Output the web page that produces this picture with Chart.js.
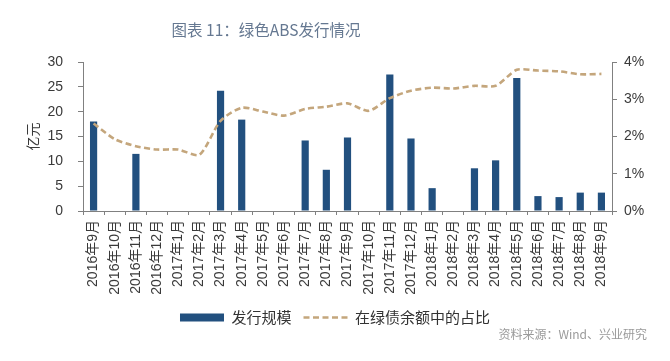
<!DOCTYPE html>
<html>
<head>
<meta charset="utf-8">
<script src="https://cdn.jsdelivr.net/npm/chart.js@4/dist/chart.umd.min.js"></script>
<style>
  html, body { margin: 0; padding: 0; background: #fff; }
  #wrap { position: relative; width: 670px; height: 361px; overflow: hidden; }
  #c { position: absolute; left: 0; top: 0; }
  #title { position: absolute; left: 0; top: 18px; width: 532px; text-align: center;
    font: 15.5px "Noto Sans CJK SC", "Liberation Sans", sans-serif; color: #657891; line-height: 22px; }
  #src { position: absolute; right: 23px; top: 325px;
    font: 12px "Noto Sans CJK SC", "Liberation Sans", sans-serif; color: #9a9a9a; line-height: 18px; }
</style>
</head>
<body>
<div id="wrap">
  <canvas id="c" width="670" height="361"></canvas>
  <div id="title">图表 11：绿色ABS发行情况</div>
  <div id="src">资料来源：Wind、兴业研究</div>
</div>
<script>
const categories = ['2016年9月','2016年10月','2016年11月','2016年12月','2017年1月','2017年2月','2017年3月','2017年4月','2017年5月','2017年6月','2017年7月','2017年8月','2017年9月','2017年10月','2017年11月','2017年12月','2018年1月','2018年2月','2018年3月','2018年4月','2018年5月','2018年6月','2018年7月','2018年8月','2018年9月'];
const issuance = [18.0, 0, 11.5, 0, 0, 0, 24.2, 18.4, 0, 0, 14.2, 8.3, 14.8, 0, 27.5, 14.6, 4.6, 0, 8.6, 10.2, 26.8, 3.0, 2.8, 3.7, 3.7];
const sharePct = [2.35, 1.93, 1.74, 1.65, 1.65, 1.51, 2.42, 2.77, 2.67, 2.56, 2.74, 2.80, 2.89, 2.69, 3.03, 3.23, 3.31, 3.29, 3.36, 3.36, 3.79, 3.77, 3.75, 3.67, 3.68];
const leftTicks = [0, 5, 10, 15, 20, 25, 30];
const rightTicks = ['0%', '1%', '2%', '3%', '4%'];
const seriesNames = ['发行规模', '在绿债余额中的占比'];

const BLUE = '#22507f';
const TAN = '#c4a67c';
const AXIS = '#808080';
const TXT = '#3a3a3a';
const FONT = '"Liberation Sans", "Noto Sans CJK SC", sans-serif';

new Chart(document.getElementById('c'), {
  type: 'bar',
  data: {
    labels: categories,
    datasets: [
      { type: 'bar', label: seriesNames[0], data: issuance, backgroundColor: BLUE, borderWidth: 0,
        yAxisID: 'y', categoryPercentage: 1.0, barPercentage: 0.34, order: 2 },
      { type: 'line', label: seriesNames[1], data: sharePct, borderColor: TAN, borderWidth: 2.6,
        borderDash: [6, 3.5], pointRadius: 0, tension: 0.25, fill: false, yAxisID: 'y1', order: 1 }
    ]
  },
  options: {
    responsive: false,
    animation: false,
    devicePixelRatio: 1,
    layout: { padding: { top: 62, left: 0, right: 0, bottom: 26 } },
    plugins: {
      tooltip: { enabled: false },
      legend: {
        position: 'bottom',
        labels: {
          usePointStyle: true,
          pointStyleWidth: 44,
          boxHeight: 8,
          boxWidth: 44,
          padding: 12,
          color: '#333',
          font: { family: '"Noto Sans CJK SC", sans-serif', size: 15 },
          generateLabels: () => [
            { text: seriesNames[0], fillStyle: BLUE, strokeStyle: BLUE, lineWidth: 0, pointStyle: 'rect', datasetIndex: 0, fontColor: '#333' },
            { text: seriesNames[1], fillStyle: TAN, strokeStyle: TAN, lineWidth: 2.6, lineDash: [6, 3.5], pointStyle: 'line', datasetIndex: 1, fontColor: '#333' }
          ]
        }
      }
    },
    scales: {
      x: {
        offset: true,
        grid: { display: true, drawOnChartArea: false, drawTicks: true, tickLength: 4, color: AXIS, offset: true },
        border: { display: true, color: AXIS, width: 1 },
        ticks: { minRotation: 90, maxRotation: 90, autoSkip: false, padding: 5, color: TXT,
          font: { family: FONT, size: 14 } },
        afterFit: (s) => { s.height = 87; }
      },
      y: {
        position: 'left',
        min: 0, max: 30,
        afterBuildTicks: (s) => { s.ticks = leftTicks.map(v => ({ value: v })); },
        grid: { display: true, drawOnChartArea: false, drawTicks: true, tickLength: 5, color: AXIS },
        border: { display: true, color: AXIS, width: 1 },
        ticks: { padding: 15, color: TXT, font: { family: FONT, size: 14 } },
        title: { display: true, text: '亿元', color: TXT, padding: { top: 24, bottom: 0 },
          font: { family: '"Noto Sans CJK SC", sans-serif', size: 14 } },
        afterFit: (s) => { s.width = 83; }
      },
      y1: {
        position: 'right',
        min: 0, max: 4,
        afterBuildTicks: (s) => { s.ticks = rightTicks.map((t, i) => ({ value: i })); },
        grid: { display: true, drawOnChartArea: false, drawTicks: true, tickLength: 5, color: AXIS },
        border: { display: true, color: AXIS, width: 1 },
        ticks: { padding: 7, color: TXT, font: { family: FONT, size: 14 },
          callback: (v, i) => rightTicks[i] },
        afterFit: (s) => { s.width = 58; }
      }
    }
  }
});
</script>
</body>
</html>
